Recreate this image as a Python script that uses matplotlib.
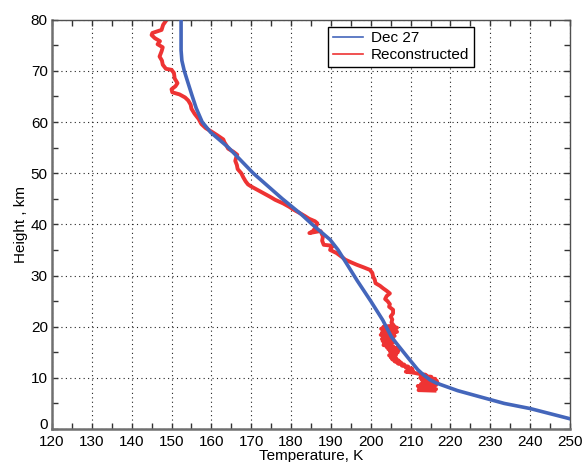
import matplotlib
matplotlib.use("Agg")
import matplotlib.pyplot as plt
from matplotlib.ticker import MultipleLocator, FuncFormatter

plt.rcParams["font.family"] = ["Liberation Sans", "DejaVu Sans"]

# Dec 27 model profile
dec27_height = [80, 74, 72, 70, 68, 65.3, 62.7, 60, 58, 55, 50, 45, 42, 40, 37, 35, 33,
                29, 25, 21.3, 18, 16.8, 13.5, 11.6, 10.6, 9.6, 9, 8.5, 7.5, 6.3, 5, 4, 3, 2]
dec27_temp = [152.4, 152.4, 152.6, 153.2, 154.0, 155.1, 156.2, 157.7, 159.8, 164.3, 170.5,
              177.8, 182.5, 185.3, 189.8, 191.8, 193.4, 196.6, 200.0, 203.0, 205.2, 206.4,
              209.8, 211.8, 213.2, 214.9, 216.4, 218.2, 221.8, 227.4, 233.5, 240.0, 245.0, 250.0]

# reconstructed profile
recon_height = [80.5, 80, 79, 78, 77.4, 77, 76.4, 75.8, 75.2, 74.6, 73.8, 72.8, 72, 71.2,
                70.4, 70.2, 69.6, 68.5, 67.6, 67, 66.4, 65.8, 65.4, 64.8, 64.2, 63.4, 62.6,
                61.6, 60.6, 59.6, 58.8, 58, 57.4, 56.6, 56, 55.4, 54.8, 54.2, 53.6, 53, 52.4,
                51.6, 50.8, 50, 49.2, 48.4, 47.8, 47.4, 46.8, 46.1, 45.4, 44.8, 44.1, 43.4,
                42.8, 42.2, 41.6, 41.1, 40.6, 40.2, 39.8, 39.2, 38.6, 38.3, 38.7, 38.0,
                37.6, 36.8, 36.0, 35.8, 35.4, 35.0, 34.4, 33.6, 33.1, 32.6, 32.1, 31.6,
                31.1, 30.5, 29.8, 29.2, 28.5, 28.0, 27.5, 27.0, 26.5, 26.0, 25.4, 25.0,
                24.4, 23.9, 23.3, 22.6, 22.0, 21.4, 20.8,
                20.2, 20.0, 19.8, 19.6, 19.4, 19.2, 19.0, 18.8, 18.6, 18.4, 18.2, 18.0,
                17.8, 17.6, 17.4, 17.2, 17.0, 16.8, 16.6, 16.4, 16.2, 16.0, 15.8, 15.6,
                15.4, 15.2, 15.0, 14.8, 14.6, 14.4, 14.2, 14.0, 13.8, 13.6, 13.4, 13.2,
                13.0, 12.8, 12.6, 12.4, 12.2, 12.0, 11.8, 11.6, 11.4, 11.2, 11.0, 10.8,
                10.6, 10.4, 10.2, 10.0, 9.8, 9.6, 9.4, 9.2, 9.0, 8.8, 8.6, 8.4, 8.2, 8.0,
                7.8, 7.6, 7.5]
recon_temp = [149.5, 148.8, 147.9, 147.5, 145.2, 145.0, 145.8, 147.1, 146.5, 147.8, 147.5,
              147.0, 147.6, 147.8, 148.6, 150.0, 150.6, 150.8, 151.5, 151.0, 150.0, 150.2,
              152.0, 153.4, 154.2, 154.8, 155.0, 155.8, 156.8, 157.5, 158.6, 160.3, 161.5,
              163.0, 163.3, 163.8, 164.2, 165.5, 166.5, 166.2, 166.0, 166.4, 166.6, 167.5,
              168.0, 168.6, 169.2, 170.0, 171.4, 173.0, 174.7, 176.0, 178.0, 179.6, 180.8,
              182.2, 183.5, 184.5, 186.0, 186.6, 186.4, 186.0, 185.4, 184.6, 187.4, 187.8,
              188.0, 187.8, 188.2, 190.6, 190.0, 189.8, 191.4, 192.8, 193.6, 195.0, 196.5,
              198.2, 199.8, 200.4, 200.6, 201.0, 201.2, 202.3, 203.1, 204.0, 204.8, 204.0,
              203.6, 204.2, 204.8, 204.6, 205.6, 205.6, 205.0, 205.4, 205.2,
              205.8, 203.2, 206.6, 202.6, 206.2, 203.0, 206.6, 202.8, 205.8, 202.5, 206.0,
              203.2, 205.6, 202.8, 205.2, 203.0, 205.8, 203.4, 204.8, 203.2, 205.6, 204.0,
              206.6, 204.4, 207.0, 204.8, 206.8, 205.0, 206.4, 204.6, 206.2, 205.0, 206.4,
              205.4, 207.0, 206.0, 207.6, 206.8, 208.4, 207.8, 209.4, 208.8, 210.4, 209.6,
              210.6, 208.8, 210.8, 212.0, 213.8, 212.6, 215.2, 212.4, 216.2, 212.8, 216.6,
              213.2, 216.8, 212.6, 216.4, 211.8, 215.8, 212.2, 216.4, 212.0, 216.0]

fig = plt.figure(figsize=(5.84, 4.62), dpi=100)
ax = fig.add_axes([0.089, 0.0714, 0.887, 0.886])

ax.plot(dec27_temp, dec27_height, color="#4466bb", lw=2.6, label="Dec 27", zorder=3)
ax.plot(recon_temp, recon_height, color="#ee3333", lw=2.8, label="Reconstructed", zorder=2)

ax.set_xlim(120, 250)
ax.set_ylim(0, 80)
ax.xaxis.set_major_locator(MultipleLocator(10))
ax.xaxis.set_minor_locator(MultipleLocator(5))
ax.yaxis.set_major_locator(MultipleLocator(10))
ax.yaxis.set_minor_locator(MultipleLocator(5))
# the "0" is drawn by hand a bit higher so it does not sit on "120"
ax.yaxis.set_major_formatter(FuncFormatter(lambda v, pos: "" if v == 0 else f"{v:g}"))
ax.annotate("0", xy=(0, 0), xycoords="axes fraction", xytext=(-4, 4),
            textcoords="offset pixels", ha="right", va="center", fontsize=11)

ax.tick_params(which="both", direction="in", top=True, right=True, length=4,
               width=1, color="#333333", labelsize=11)
ax.tick_params(axis="x", pad=4)
ax.tick_params(axis="y", pad=3)
ax.grid(True, which="major", color="#222222", linestyle=(0, (1, 3)), lw=0.8)

for side in ["left", "bottom"]:
    ax.spines[side].set_color("#707070")
    ax.spines[side].set_linewidth(1.8)
for side in ["top", "right"]:
    ax.spines[side].set_color("#505050")
    ax.spines[side].set_linewidth(1.0)

ax.set_xlabel("Temperature, K", fontsize=11, labelpad=0)
ax.set_ylabel("Height , km", fontsize=11, labelpad=2)

leg = ax.legend(loc="upper left", bbox_to_anchor=(0.533, 0.983), fontsize=11,
                fancybox=False, framealpha=1, edgecolor="black", handlelength=2.0,
                handletextpad=0.5, borderpad=0.3, labelspacing=0.2, borderaxespad=0)
leg.get_frame().set_linewidth(1.0)
for line in leg.get_lines():
    line.set_linewidth(1.2)

fig.savefig("out.png", dpi=100)
